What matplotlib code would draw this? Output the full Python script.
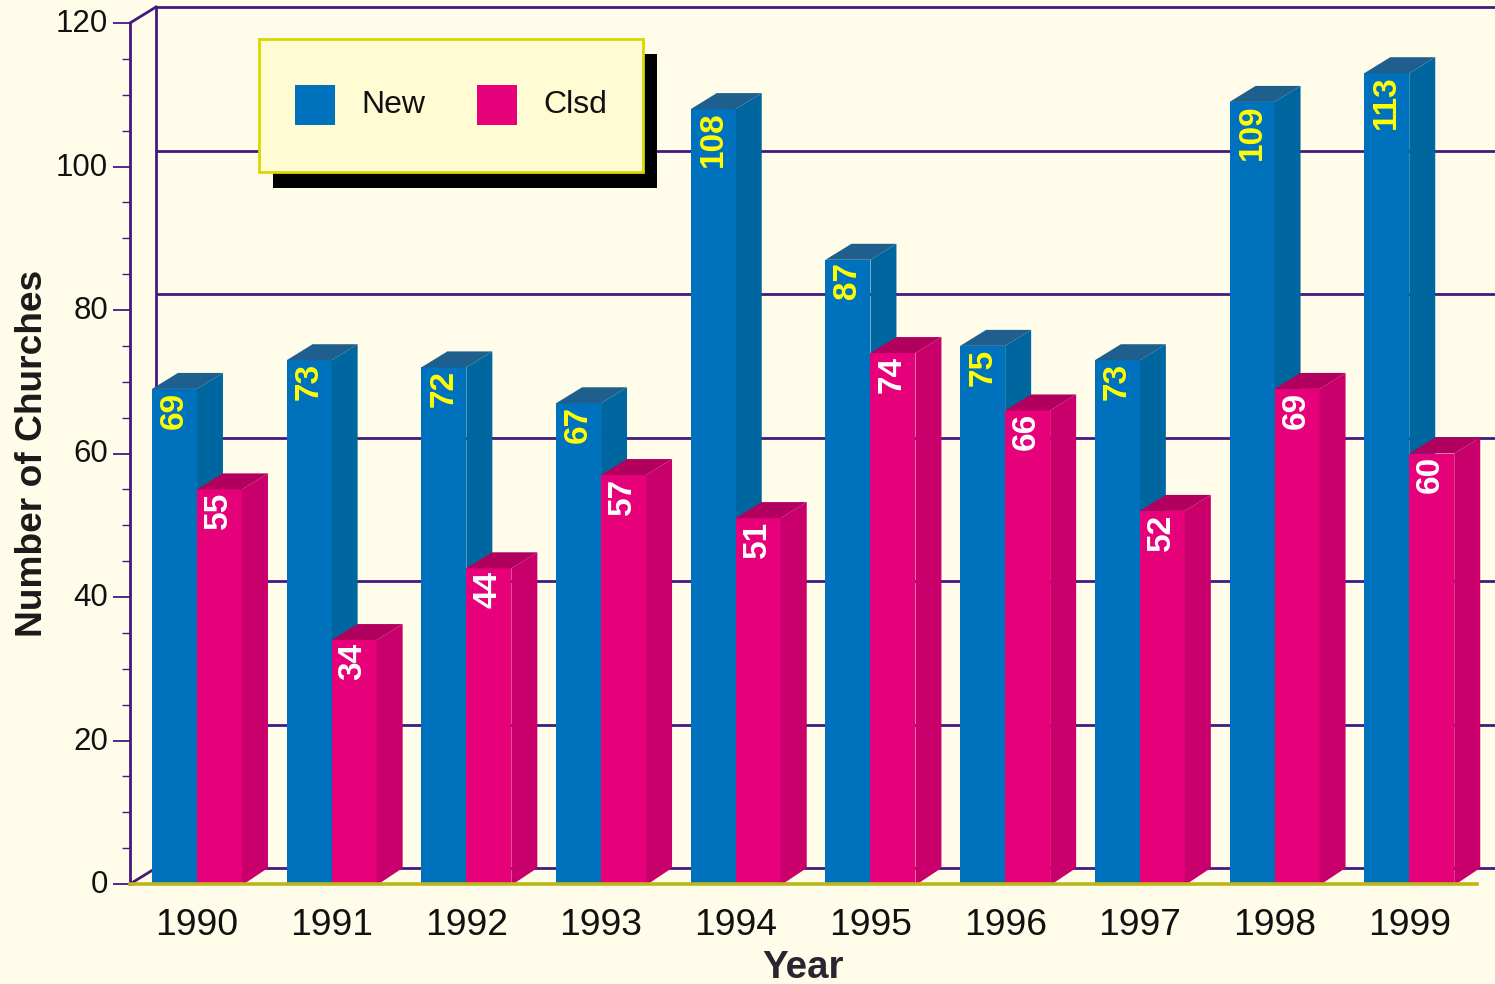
import matplotlib
matplotlib.use('Agg')
import matplotlib.pyplot as plt
from matplotlib.patches import Polygon, Rectangle
from matplotlib.ticker import MultipleLocator
from matplotlib.transforms import ScaledTranslation
import numpy as np

years = ['1990', '1991', '1992', '1993', '1994', '1995', '1996', '1997', '1998', '1999']
new_churches = [69, 73, 72, 67, 108, 87, 75, 73, 109, 113]
closed_churches = [55, 34, 44, 57, 51, 74, 66, 52, 69, 60]

W, H = 1495, 984
BG = '#FFFDE9'
AXIS = '#43197F'
BLUE, BLUE_SIDE, BLUE_TOP = '#0071BC', '#00669F', '#1F5F8E'
PINK, PINK_SIDE, PINK_TOP = '#E6007A', '#C9006B', '#B2005E'

plt.rcParams['font.family'] = ['Liberation Sans', 'DejaVu Sans']

fig = plt.figure(figsize=(W / 100, H / 100), dpi=100, facecolor=BG)
ax = fig.add_axes([130 / W, (H - 884) / H, 1347 / W, 861 / H], facecolor='none')
ax.set_xlim(-0.497, 9.503)
ax.set_ylim(0, 120)

# depth of the fake 3D box, in data units
px_x = 10 / 1347
px_y = 120 / 861
dx = 26 * px_x
dy = 16 * px_y
blue_w = 45 * px_x
pink_w = 45 * px_x


def box(x, w, v, front, side, top, z):
    ax.bar(x, v, w, align='edge', color=front, linewidth=0, zorder=z, clip_on=False)
    ax.add_patch(Polygon([(x + w + 2 * px_x, 0), (x + w + dx, dy), (x + w + dx, v + dy), (x + w, v), (x + w, 0)],
                         facecolor=side, edgecolor='none', zorder=z, clip_on=False))
    ax.add_patch(Polygon([(x, v), (x + dx, v + dy), (x + w + dx, v + dy), (x + w, v)],
                         facecolor=top, edgecolor='none', zorder=z, clip_on=False))


# back wall
for v in range(0, 121, 20):
    ax.plot([-0.497 + dx, 10.5], [v + dy, v + dy], color=AXIS, lw=2, clip_on=False, zorder=1,
            solid_capstyle='butt')
ax.plot([-0.497 + dx, -0.497 + dx], [dy, 120 + dy], color=AXIS, lw=2, clip_on=False, zorder=1)
ax.plot([-0.497, -0.497 + dx], [0, dy], color=AXIS, lw=2, clip_on=False, zorder=1)
ax.plot([-0.497, -0.497 + dx], [120, 120 + dy], color=AXIS, lw=2, clip_on=False, zorder=1)

for i in range(len(years)):
    z = 3 + i
    box(i - blue_w, blue_w, new_churches[i], BLUE, BLUE_SIDE, BLUE_TOP, z)
    box(i, pink_w, closed_churches[i], PINK, PINK_SIDE, PINK_TOP, z + 0.5)
    ax.annotate(str(new_churches[i]), (i - blue_w / 2, new_churches[i]), xytext=(0, -2.5),
                textcoords='offset pixels', rotation=90, ha='center', va='top',
                color='#FFFF00', fontsize=24, fontweight='bold', zorder=z + 0.6)
    ax.annotate(str(closed_churches[i]), (i + pink_w / 2, closed_churches[i]), xytext=(-1, -2.5),
                textcoords='offset pixels', rotation=90, ha='center', va='top',
                color='white', fontsize=24, fontweight='bold', zorder=z + 0.6)

ax.spines[['top', 'right']].set_visible(False)
ax.spines['left'].set_color(AXIS)
ax.spines['left'].set_linewidth(2)
ax.spines['bottom'].set_color('#BDB51C')
ax.spines['bottom'].set_linewidth(2.6)
ax.spines['bottom'].set_zorder(20)

ax.set_xticks(range(len(years)), years)
ax.tick_params(axis='x', length=0, pad=17.2, labelsize=26.8, labelcolor='#111111')
ax.yaxis.set_major_locator(MultipleLocator(20))
ax.yaxis.set_minor_locator(MultipleLocator(5))
ax.tick_params(axis='y', which='major', length=12.2, width=1.3, color=AXIS, pad=3.6,
               labelsize=22.5, labelcolor='#111111')
ax.tick_params(axis='y', which='minor', length=5.8, width=1, color=AXIS)
for lab in ax.get_yticklabels():
    lab.set_transform(lab.get_transform() + ScaledTranslation(0, 2.5 / 100, fig.dpi_scale_trans))

ax.set_ylabel('Number of Churches', fontsize=26.7, fontweight='bold', color='#1A1A1A', va='center')
ax.yaxis.set_label_coords(-0.0727, 0.5)
ax.set_xlabel('Year', fontsize=27.7, fontweight='bold', color='#2A2433', va='center')
ax.xaxis.set_label_coords(0.4996, -0.0975)


def px_rect(x0, y0, x1, y1, **kw):
    fig.add_artist(Rectangle((x0 / W, 1 - y1 / H), (x1 - x0) / W, (y1 - y0) / H,
                             transform=fig.transFigure, zorder=30, **kw))


# legend box with hard shadow
px_rect(273, 54, 657, 188, facecolor='black', edgecolor='none')
px_rect(259, 39, 643, 172, facecolor='#FFFBD2', edgecolor='#DDD600', linewidth=2)
px_rect(295, 85, 335, 125, facecolor=BLUE, edgecolor='none')
px_rect(477, 85, 517, 125, facecolor=PINK, edgecolor='none')
fig.text(361 / W, 1 - 105 / H, 'New', fontsize=23, color='#111111', va='center', zorder=31)
fig.text(543.5 / W, 1 - 105 / H, 'Clsd', fontsize=23, color='#111111', va='center', zorder=31)

fig.savefig('out.png', dpi=100, facecolor=BG)
